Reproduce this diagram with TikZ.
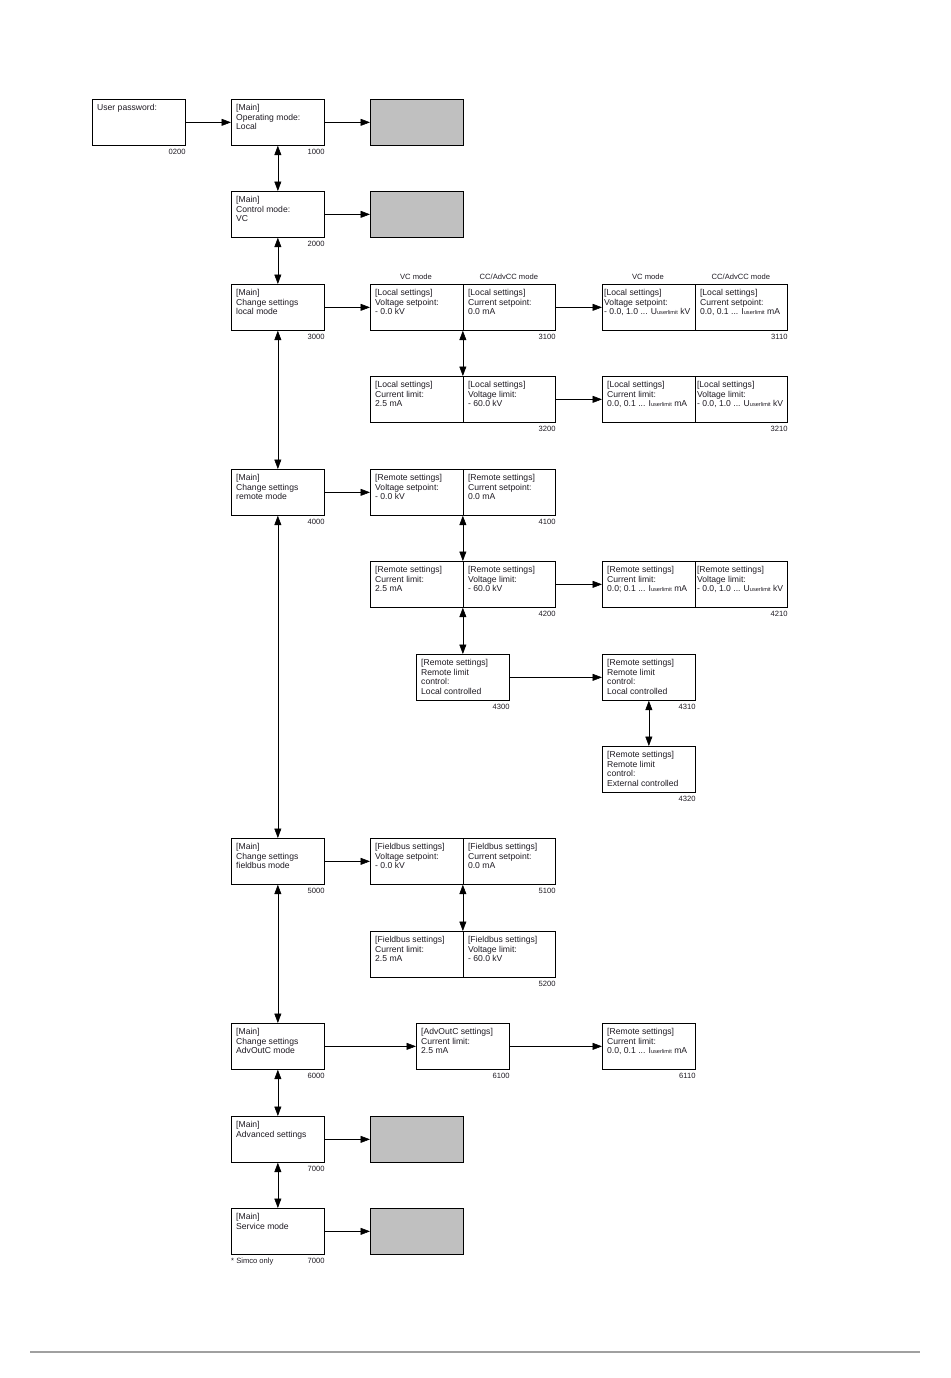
\documentclass[tikz,border=0pt]{standalone}
\usepackage{fontspec}
\setmainfont{Liberation Sans}
\usetikzlibrary{arrows.meta}
\definecolor{boxgrey}{HTML}{C0C0C0}
\definecolor{txtc}{HTML}{1E1A22}
\definecolor{rulegrey}{HTML}{A0A0A0}
\newcommand\fs{\fontsize{8.6}{9.6}\selectfont}
\newcommand\fsn{\fontsize{7.6}{8}\selectfont}
\newcommand\usl{{\fontsize{5.6}{6}\selectfont userlimit}}
\begin{document}
\begin{tikzpicture}[x=1pt,y=-1pt,
  scr/.style={draw, line width=0.7pt, minimum width=93pt, minimum height=46pt, anchor=north west, inner sep=0pt},
  wide/.style={scr, minimum width=185pt},
  greybox/.style={scr, fill=boxgrey},
  txt/.style={anchor=north west, align=left, inner sep=0pt, font=\fs, text=txtc, xshift=5pt, yshift=-5pt},
  num/.style={anchor=north east, inner sep=0pt, font=\fsn, text=txtc, yshift=-3pt},
  lbl/.style={anchor=base, inner sep=0pt, font=\fsn, text=txtc},
  divider/.style={line width=0.7pt},
  arr/.style={-{Triangle[length=9.5pt,width=7pt]}, line width=0.6pt},
  darr/.style={{Triangle[length=9.5pt,width=7pt]}-{Triangle[length=9.5pt,width=7pt]}, line width=0.6pt}
]
\useasboundingbox (0,0) rectangle (950,1378);

% ---- 0200
\node[scr] (n0200) at (92,99) {};
\node[txt] at (n0200.north west) {User password:};
\node[num] at (n0200.south east) {0200};

% ---- 1000
\node[scr] (n1000) at (231,99) {};
\node[txt] at (n1000.north west) {[Main]\\Operating mode:\\Local};
\node[num] at (n1000.south east) {1000};
\node[greybox] (g1000) at (370,99) {};

% ---- 2000
\node[scr] (n2000) at (231,191) {};
\node[txt] at (n2000.north west) {[Main]\\Control mode:\\VC};
\node[num] at (n2000.south east) {2000};
\node[greybox] (g2000) at (370,191) {};

% ---- 3000
\node[scr] (n3000) at (231,284) {};
\node[txt] at (n3000.north west) {[Main]\\Change settings\\local mode};
\node[num] at (n3000.south east) {3000};

% ---- 3100
\node[wide] (n3100) at (370,284) {};
\draw[divider] (n3100.north) -- (n3100.south);
\node[txt] at (n3100.north west) {[Local settings]\\Voltage setpoint:\\- 0.0 kV};
\node[txt] at (n3100.north) {[Local settings]\\Current setpoint:\\0.0 mA};
\node[num] at (n3100.south east) {3100};
\node[lbl] at ([xshift=46pt,yshift=5pt]n3100.north west) {VC mode};
\node[lbl] at ([xshift=46pt,yshift=5pt]n3100.north) {CC/AdvCC mode};

% ---- 3110
\node[wide] (n3110) at (602,284) {};
\draw[divider] (n3110.north) -- (n3110.south);
\node[txt, xshift=-3pt] at (n3110.north west) {[Local settings]\\Voltage setpoint:\\- 0.0, 1.0 ... U\usl{} kV};
\node[txt] at (n3110.north) {[Local settings]\\Current setpoint:\\0.0, 0.1 ... I\usl{} mA};
\node[num] at (n3110.south east) {3110};
\node[lbl] at ([xshift=46pt,yshift=5pt]n3110.north west) {VC mode};
\node[lbl] at ([xshift=46pt,yshift=5pt]n3110.north) {CC/AdvCC mode};

% ---- 3200
\node[wide] (n3200) at (370,376) {};
\draw[divider] (n3200.north) -- (n3200.south);
\node[txt] at (n3200.north west) {[Local settings]\\Current limit:\\2.5 mA};
\node[txt] at (n3200.north) {[Local settings]\\Voltage limit:\\- 60.0 kV};
\node[num] at (n3200.south east) {3200};

% ---- 3210
\node[wide] (n3210) at (602,376) {};
\draw[divider] (n3210.north) -- (n3210.south);
\node[txt] at (n3210.north west) {[Local settings]\\Current limit:\\0.0, 0.1 ... I\usl{} mA};
\node[txt, xshift=-3pt] at (n3210.north) {[Local settings]\\Voltage limit:\\- 0.0, 1.0 ... U\usl{} kV};
\node[num] at (n3210.south east) {3210};

% ---- 4000
\node[scr] (n4000) at (231,469) {};
\node[txt] at (n4000.north west) {[Main]\\Change settings\\remote mode};
\node[num] at (n4000.south east) {4000};

% ---- 4100
\node[wide] (n4100) at (370,469) {};
\draw[divider] (n4100.north) -- (n4100.south);
\node[txt] at (n4100.north west) {[Remote settings]\\Voltage setpoint:\\- 0.0 kV};
\node[txt] at (n4100.north) {[Remote settings]\\Current setpoint:\\0.0 mA};
\node[num] at (n4100.south east) {4100};

% ---- 4200
\node[wide] (n4200) at (370,561) {};
\draw[divider] (n4200.north) -- (n4200.south);
\node[txt] at (n4200.north west) {[Remote settings]\\Current limit:\\2.5 mA};
\node[txt] at (n4200.north) {[Remote settings]\\Voltage limit:\\- 60.0 kV};
\node[num] at (n4200.south east) {4200};

% ---- 4210
\node[wide] (n4210) at (602,561) {};
\draw[divider] (n4210.north) -- (n4210.south);
\node[txt] at (n4210.north west) {[Remote settings]\\Current limit:\\0.0; 0.1 ... I\usl{} mA};
\node[txt, xshift=-3pt] at (n4210.north) {[Remote settings]\\Voltage limit:\\- 0.0, 1.0 ... U\usl{} kV};
\node[num] at (n4210.south east) {4210};

% ---- 4300
\node[scr] (n4300) at (416,654) {};
\node[txt] at (n4300.north west) {[Remote settings]\\Remote limit\\control:\\Local controlled};
\node[num] at (n4300.south east) {4300};

% ---- 4310
\node[scr] (n4310) at (602,654) {};
\node[txt] at (n4310.north west) {[Remote settings]\\Remote limit\\control:\\Local controlled};
\node[num] at (n4310.south east) {4310};

% ---- 4320
\node[scr] (n4320) at (602,746) {};
\node[txt] at (n4320.north west) {[Remote settings]\\Remote limit\\control:\\External controlled};
\node[num] at (n4320.south east) {4320};

% ---- 5000
\node[scr] (n5000) at (231,838) {};
\node[txt] at (n5000.north west) {[Main]\\Change settings\\fieldbus mode};
\node[num] at (n5000.south east) {5000};

% ---- 5100
\node[wide] (n5100) at (370,838) {};
\draw[divider] (n5100.north) -- (n5100.south);
\node[txt] at (n5100.north west) {[Fieldbus settings]\\Voltage setpoint:\\- 0.0 kV};
\node[txt] at (n5100.north) {[Fieldbus settings]\\Current setpoint:\\0.0 mA};
\node[num] at (n5100.south east) {5100};

% ---- 5200
\node[wide] (n5200) at (370,931) {};
\draw[divider] (n5200.north) -- (n5200.south);
\node[txt] at (n5200.north west) {[Fieldbus settings]\\Current limit:\\2.5 mA};
\node[txt] at (n5200.north) {[Fieldbus settings]\\Voltage limit:\\- 60.0 kV};
\node[num] at (n5200.south east) {5200};

% ---- 6000
\node[scr] (n6000) at (231,1023) {};
\node[txt] at (n6000.north west) {[Main]\\Change settings\\AdvOutC mode};
\node[num] at (n6000.south east) {6000};

% ---- 6100
\node[scr] (n6100) at (416,1023) {};
\node[txt] at (n6100.north west) {[AdvOutC settings]\\Current limit:\\2.5 mA};
\node[num] at (n6100.south east) {6100};

% ---- 6110
\node[scr] (n6110) at (602,1023) {};
\node[txt] at (n6110.north west) {[Remote settings]\\Current limit:\\0.0, 0.1 ... I\usl{} mA};
\node[num] at (n6110.south east) {6110};

% ---- 7000 advanced
\node[scr] (n7000) at (231,1116) {};
\node[txt] at (n7000.north west) {[Main]\\Advanced settings};
\node[num] at (n7000.south east) {7000};
\node[greybox] (g7000) at (370,1116) {};

% ---- 7000 service
\node[scr] (n7000s) at (231,1208) {};
\node[txt] at (n7000s.north west) {[Main]\\Service mode};
\node[num] at (n7000s.south east) {7000};
\node[num, anchor=north west] at (n7000s.south west) {* Simco only};
\node[greybox] (g7000s) at (370,1208) {};

% ---- horizontal arrows
\draw[arr] (n0200.east) -- (n1000.west);
\draw[arr] (n1000.east) -- (g1000.west);
\draw[arr] (n2000.east) -- (g2000.west);
\draw[arr] (n3000.east) -- (n3100.west);
\draw[arr] (n3100.east) -- (n3110.west);
\draw[arr] (n3200.east) -- (n3210.west);
\draw[arr] (n4000.east) -- (n4100.west);
\draw[arr] (n4200.east) -- (n4210.west);
\draw[arr] (n4300.east) -- (n4310.west);
\draw[arr] (n5000.east) -- (n5100.west);
\draw[arr] (n6000.east) -- (n6100.west);
\draw[arr] (n6100.east) -- (n6110.west);
\draw[arr] (n7000.east) -- (g7000.west);
\draw[arr] (n7000s.east) -- (g7000s.west);

% ---- vertical double arrows
\draw[darr] (n1000.south) -- (n2000.north);
\draw[darr] (n2000.south) -- (n3000.north);
\draw[darr] (n3000.south) -- (n4000.north);
\draw[darr] (n4000.south) -- (n5000.north);
\draw[darr] (n5000.south) -- (n6000.north);
\draw[darr] (n6000.south) -- (n7000.north);
\draw[darr] (n7000.south) -- (n7000s.north);
\draw[darr] (n3100.south) -- (n3200.north);
\draw[darr] (n4100.south) -- (n4200.north);
\draw[darr] (n4200.south) -- (n4300.north);
\draw[darr] (n4310.south) -- (n4320.north);
\draw[darr] (n5100.south) -- (n5200.north);

% ---- bottom rule
\coordinate (ruleL) at (30,1352);
\coordinate (ruleR) at (920,1352);
\draw[rulegrey, line width=1.5pt] (ruleL) -- (ruleR);
\end{tikzpicture}
\end{document}
